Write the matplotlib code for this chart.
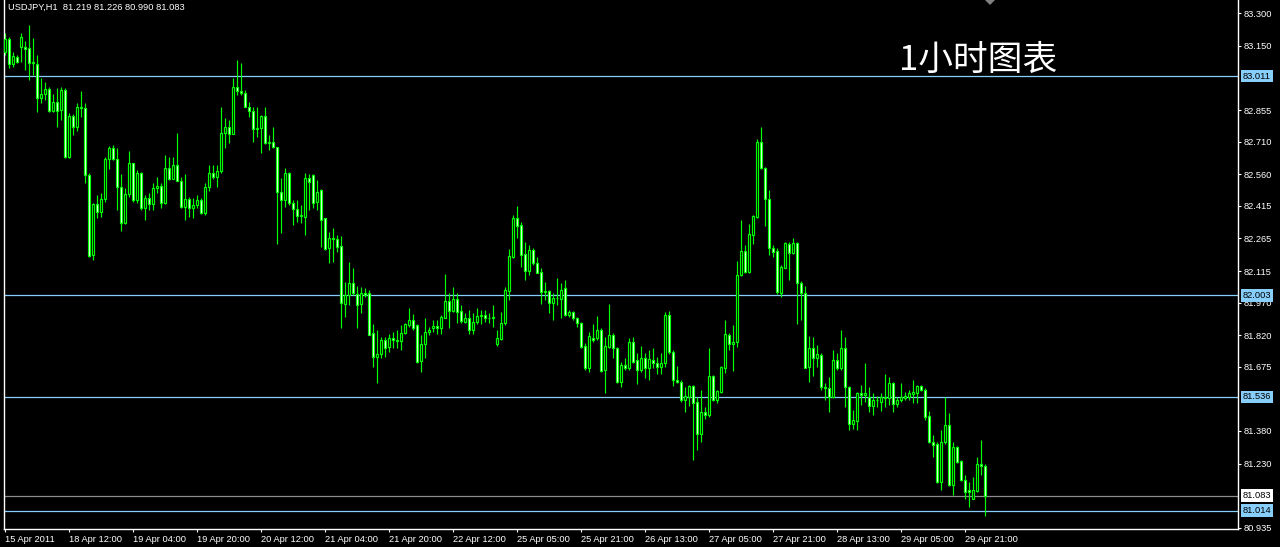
import matplotlib
matplotlib.use("Agg")
import matplotlib.pyplot as plt
import matplotlib.transforms as mtransforms
from matplotlib.patches import Polygon
import numpy as np

# ---------------- data ----------------
header_text = "USDJPY,H1  81.219 81.226 80.990 81.083"
chart_title = "1小时图表"

opens = [
    83.120, 83.180, 83.065, 83.097, 83.143, 83.143, 83.139, 83.073, 83.065, 82.909,
    82.929, 82.952, 82.852, 82.892, 82.855, 82.947, 82.640, 82.828, 82.778, 82.867,
    82.866, 82.556, 82.188, 82.423, 82.388, 82.446, 82.628, 82.680, 82.628, 82.499,
    82.338, 82.469, 82.610, 82.441, 82.567, 82.403, 82.449, 82.423, 82.495, 82.506,
    82.426, 82.587, 82.538, 82.601, 82.527, 82.411, 82.444, 82.403, 82.418, 82.441,
    82.380, 82.502, 82.567, 82.548, 82.576, 82.751, 82.775, 82.745, 82.962, 82.944,
    82.932, 82.870, 82.850, 82.766, 82.771, 82.828, 82.702, 82.706, 82.683, 82.480,
    82.441, 82.564, 82.429, 82.398, 82.368, 82.365, 82.541, 82.556, 82.434, 82.487,
    82.357, 82.219, 82.269, 82.260, 82.229, 81.963, 82.004, 82.062, 82.009, 81.963,
    82.015, 82.012, 81.828, 81.720, 81.733, 81.800, 81.766, 81.805, 81.797, 81.794,
    81.831, 81.866, 81.889, 81.866, 81.702, 81.779, 81.834, 81.855, 81.862, 81.855,
    81.901, 81.977, 81.932, 81.986, 81.932, 81.882, 81.897, 81.846, 81.882, 81.909,
    81.912, 81.897, 81.900, 81.779, 81.803, 81.874, 82.024, 82.180, 82.361, 82.326,
    82.193, 82.116, 82.211, 82.150, 82.110, 82.019, 82.022, 81.966, 81.989, 81.987,
    82.039, 81.912, 81.927, 81.897, 81.874, 81.770, 81.670, 81.809, 81.805, 81.846,
    81.659, 81.766, 81.823, 81.759, 81.603, 81.682, 81.671, 81.791, 81.705, 81.662,
    81.713, 81.667, 81.708, 81.690, 81.675, 81.690, 81.912, 81.744, 81.616, 81.606,
    81.521, 81.534, 81.586, 81.514, 81.368, 81.468, 81.452, 81.632, 81.521, 81.560,
    81.667, 81.820, 81.779, 81.790, 82.096, 82.207, 82.111, 82.280, 82.364, 82.708,
    82.587, 82.444, 82.223, 82.207, 82.015, 82.131, 82.239, 82.199, 82.242, 82.062,
    82.015, 81.672, 81.763, 81.717, 81.728, 81.583, 81.575, 81.537, 81.708, 81.670,
    81.759, 81.580, 81.414, 81.426, 81.552, 81.544, 81.537, 81.494, 81.524, 81.514,
    81.534, 81.529, 81.598, 81.503, 81.524, 81.529, 81.534, 81.549, 81.555, 81.586,
    81.570, 81.448, 81.330, 81.319, 81.146, 81.330, 81.406, 81.130, 81.304, 81.242,
    81.156, 81.110, 81.069, 81.104, 81.227, 81.219,
]
highs = [
    83.208, 83.192, 83.123, 83.108, 83.211, 83.174, 83.248, 83.185, 83.108, 83.001,
    82.985, 82.962, 82.929, 82.955, 82.962, 82.955, 82.840, 82.835, 82.886, 82.944,
    82.889, 82.564, 82.429, 82.464, 82.472, 82.640, 82.690, 82.694, 82.679, 82.561,
    82.495, 82.668, 82.613, 82.579, 82.572, 82.464, 82.472, 82.518, 82.548, 82.518,
    82.648, 82.640, 82.640, 82.748, 82.548, 82.561, 82.457, 82.449, 82.464, 82.449,
    82.521, 82.602, 82.602, 82.602, 82.867, 82.820, 82.809, 83.001, 83.085, 83.070,
    82.947, 82.893, 82.867, 82.870, 82.832, 82.867, 82.740, 82.778, 82.686, 82.541,
    82.587, 82.572, 82.441, 82.441, 82.418, 82.567, 82.561, 82.561, 82.533, 82.490,
    82.361, 82.295, 82.311, 82.280, 82.277, 82.065, 82.157, 82.131, 82.046, 82.042,
    82.035, 82.030, 81.871, 81.843, 81.812, 81.812, 81.825, 81.836, 81.843, 81.869,
    81.874, 81.946, 81.917, 81.871, 81.820, 81.897, 81.858, 81.889, 81.889, 81.912,
    82.101, 82.012, 82.042, 82.012, 81.958, 81.920, 81.935, 81.920, 81.943, 81.935,
    81.935, 81.920, 81.958, 81.846, 81.927, 82.042, 82.214, 82.372, 82.413, 82.341,
    82.249, 82.234, 82.219, 82.180, 82.131, 82.065, 82.030, 82.012, 82.084, 82.058,
    82.076, 81.935, 81.932, 81.904, 81.882, 81.782, 81.835, 81.871, 81.908, 81.851,
    81.812, 81.963, 81.828, 81.766, 81.698, 81.713, 81.809, 81.812, 81.736, 81.770,
    81.736, 81.751, 81.759, 81.718, 81.739, 81.928, 81.932, 81.751, 81.678, 81.613,
    81.583, 81.590, 81.590, 81.534, 81.567, 81.488, 81.763, 81.636, 81.570, 81.678,
    81.892, 81.828, 81.866, 82.162, 82.349, 82.234, 82.331, 82.372, 82.720, 82.775,
    82.594, 82.487, 82.234, 82.219, 82.142, 82.249, 82.249, 82.269, 82.249, 82.070,
    82.046, 81.816, 81.813, 81.774, 81.736, 81.598, 81.629, 81.754, 81.736, 81.843,
    81.813, 81.586, 81.475, 81.560, 81.590, 81.693, 81.583, 81.552, 81.540, 81.555,
    81.641, 81.626, 81.606, 81.537, 81.601, 81.560, 81.567, 81.613, 81.590, 81.590,
    81.575, 81.472, 81.360, 81.330, 81.383, 81.537, 81.463, 81.330, 81.310, 81.248,
    81.176, 81.146, 81.169, 81.261, 81.340, 81.226,
]
lows = [
    83.108, 83.050, 83.054, 83.073, 83.077, 83.039, 82.993, 83.016, 82.847, 82.886,
    82.901, 82.847, 82.847, 82.775, 82.809, 82.633, 82.633, 82.740, 82.760, 82.824,
    82.518, 82.181, 82.165, 82.361, 82.365, 82.434, 82.582, 82.625, 82.395, 82.300,
    82.331, 82.457, 82.434, 82.429, 82.395, 82.349, 82.395, 82.395, 82.472, 82.403,
    82.423, 82.533, 82.536, 82.530, 82.403, 82.349, 82.365, 82.357, 82.407, 82.377,
    82.372, 82.484, 82.536, 82.502, 82.564, 82.679, 82.705, 82.745, 82.924, 82.924,
    82.867, 82.824, 82.709, 82.732, 82.656, 82.699, 82.671, 82.679, 82.239, 82.292,
    82.411, 82.418, 82.326, 82.342, 82.334, 82.280, 82.395, 82.403, 82.395, 82.226,
    82.211, 82.150, 82.157, 82.203, 81.851, 81.904, 81.958, 82.004, 81.851, 81.920,
    81.996, 81.820, 81.675, 81.602, 81.713, 81.720, 81.744, 81.759, 81.759, 81.754,
    81.825, 81.858, 81.843, 81.693, 81.652, 81.713, 81.820, 81.836, 81.825, 81.825,
    81.897, 81.851, 81.928, 81.874, 81.877, 81.877, 81.825, 81.825, 81.871, 81.871,
    81.882, 81.874, 81.858, 81.770, 81.797, 81.866, 81.984, 82.173, 82.269, 82.134,
    82.076, 82.096, 82.142, 82.104, 81.963, 81.981, 81.923, 81.889, 81.958, 81.897,
    81.908, 81.904, 81.892, 81.858, 81.763, 81.662, 81.652, 81.790, 81.800, 81.652,
    81.552, 81.759, 81.713, 81.598, 81.583, 81.659, 81.662, 81.693, 81.595, 81.652,
    81.621, 81.616, 81.667, 81.641, 81.641, 81.675, 81.733, 81.586, 81.598, 81.514,
    81.468, 81.494, 81.248, 81.291, 81.330, 81.437, 81.445, 81.518, 81.506, 81.552,
    81.644, 81.751, 81.656, 81.767, 82.092, 82.104, 82.104, 82.239, 82.357, 82.582,
    82.321, 82.188, 82.180, 82.009, 81.997, 82.127, 82.076, 82.193, 81.871, 81.892,
    81.667, 81.606, 81.632, 81.672, 81.570, 81.524, 81.468, 81.529, 81.662, 81.662,
    81.488, 81.383, 81.391, 81.386, 81.498, 81.514, 81.468, 81.452, 81.491, 81.472,
    81.491, 81.498, 81.468, 81.491, 81.514, 81.521, 81.521, 81.509, 81.509, 81.564,
    81.432, 81.325, 81.261, 81.141, 81.107, 81.322, 81.126, 81.084, 81.233, 81.150,
    81.069, 81.028, 81.065, 81.100, 81.176, 80.990,
]
closes = [
    83.180, 83.065, 83.103, 83.074, 83.189, 83.137, 83.073, 83.077, 82.909, 82.929,
    82.952, 82.852, 82.892, 82.852, 82.947, 82.640, 82.828, 82.778, 82.867, 82.866,
    82.556, 82.185, 82.423, 82.388, 82.446, 82.628, 82.680, 82.631, 82.499, 82.338,
    82.469, 82.610, 82.441, 82.567, 82.403, 82.449, 82.423, 82.495, 82.506, 82.426,
    82.587, 82.538, 82.601, 82.530, 82.411, 82.444, 82.403, 82.418, 82.441, 82.380,
    82.502, 82.567, 82.548, 82.576, 82.751, 82.775, 82.745, 82.962, 82.944, 82.932,
    82.870, 82.850, 82.766, 82.771, 82.828, 82.702, 82.706, 82.683, 82.480, 82.441,
    82.564, 82.429, 82.398, 82.368, 82.372, 82.541, 82.525, 82.429, 82.480, 82.349,
    82.216, 82.269, 82.260, 82.226, 81.969, 82.007, 82.062, 82.012, 81.961, 82.015,
    82.004, 81.823, 81.720, 81.733, 81.800, 81.763, 81.805, 81.797, 81.794, 81.831,
    81.871, 81.889, 81.851, 81.698, 81.779, 81.834, 81.843, 81.862, 81.855, 81.904,
    81.977, 81.932, 81.986, 81.928, 81.883, 81.897, 81.846, 81.882, 81.909, 81.912,
    81.897, 81.900, 81.903, 81.805, 81.874, 82.027, 82.183, 82.361, 82.323, 82.188,
    82.116, 82.211, 82.150, 82.107, 82.019, 82.022, 81.966, 81.989, 81.993, 82.030,
    81.912, 81.927, 81.897, 81.874, 81.766, 81.667, 81.816, 81.800, 81.846, 81.656,
    81.770, 81.823, 81.759, 81.606, 81.682, 81.671, 81.791, 81.698, 81.662, 81.713,
    81.667, 81.710, 81.690, 81.675, 81.690, 81.912, 81.744, 81.616, 81.606, 81.521,
    81.540, 81.586, 81.509, 81.368, 81.468, 81.452, 81.632, 81.521, 81.564, 81.675,
    81.825, 81.779, 81.790, 82.096, 82.207, 82.111, 82.285, 82.367, 82.708, 82.587,
    82.444, 82.223, 82.203, 82.020, 82.134, 82.242, 82.196, 82.242, 82.061, 82.015,
    81.670, 81.763, 81.717, 81.733, 81.583, 81.575, 81.537, 81.708, 81.670, 81.759,
    81.580, 81.414, 81.429, 81.552, 81.544, 81.552, 81.494, 81.524, 81.521, 81.537,
    81.529, 81.598, 81.503, 81.524, 81.534, 81.540, 81.552, 81.560, 81.586, 81.570,
    81.445, 81.330, 81.314, 81.146, 81.330, 81.406, 81.130, 81.304, 81.238, 81.153,
    81.100, 81.100, 81.107, 81.227, 81.218, 81.083,
]

xtick_bars = [0, 16, 32, 48, 64, 80, 96, 112, 128, 144, 160, 176, 192, 208, 224, 240]
xtick_labels = ["15 Apr 2011", "18 Apr 12:00", "19 Apr 04:00", "19 Apr 20:00",
                "20 Apr 12:00", "21 Apr 04:00", "21 Apr 20:00", "22 Apr 12:00",
                "25 Apr 05:00", "25 Apr 21:00", "26 Apr 13:00", "27 Apr 05:00",
                "27 Apr 21:00", "28 Apr 13:00", "29 Apr 05:00", "29 Apr 21:00"]

ytick_values = [83.300, 83.150, 82.855, 82.710, 82.560, 82.415, 82.265, 82.115,
                81.970, 81.820, 81.675, 81.380, 81.230, 80.935]
ytick_labels = ["83.300", "83.150", "82.855", "82.710", "82.560", "82.415", "82.265",
                "82.115", "81.970", "81.820", "81.675", "81.380", "81.230", "80.935"]

level_prices = [83.011, 82.003, 81.536, 81.014]
level_labels = ["83.011", "82.003", "81.536", "81.014"]
bid_price = 81.083
bid_label = "81.083"

# ---------------- style ----------------
W, H = 1280, 547
BG = "black"
LIME = "#00FF00"
LEVEL = "#87CEFA"
BIDC = "#8C8C8C"
SMALL_FONT = "Liberation Sans"
FS = 6.7

fig = plt.figure(figsize=(W / 100, H / 100), dpi=100, facecolor=BG)
ax = fig.add_axes([4 / W, 18 / H, 1234 / W, 529 / H])
ax.set_facecolor(BG)

o = np.array(opens)
h = np.array(highs)
l = np.array(lows)
c = np.array(closes)
x = np.arange(len(o))
hi = np.maximum(h, np.maximum(o, c))
lo = np.minimum(l, np.minimum(o, c))

# level lines (behind candles)
for p in level_prices:
    ax.axhline(p, color=LEVEL, lw=0.9, zorder=1)
ax.axhline(bid_price, color=BIDC, lw=0.9, zorder=1)

# wicks
ax.vlines(x, lo, hi, color=LIME, lw=0.85, zorder=2)
# bodies
bottoms = np.minimum(o, c)
heights = np.abs(c - o)
heights = np.where(heights < 0.0008, 0.0008, heights)
faces = np.where(c >= o, "black", "white")
ax.bar(x, heights, bottom=bottoms, width=0.5, color=faces, edgecolor=LIME,
       linewidth=0.85, zorder=3)

ax.set_xlim(-0.25, 308.25)
ax.set_ylim(80.929, 83.361)

# spines
for side in ["left", "right", "bottom"]:
    ax.spines[side].set_color("white")
    ax.spines[side].set_linewidth(1.0)
ax.spines["top"].set_visible(False)

# y ticks on right
ax.yaxis.tick_right()
ax.set_yticks(ytick_values)
ax.set_yticklabels(ytick_labels)
ax.tick_params(axis="y", colors="white", length=2.5, width=0.8, pad=1.5,
               labelsize=FS)
for t in ax.get_yticklabels():
    t.set_fontfamily(SMALL_FONT)

# x ticks
ax.set_xticks(xtick_bars)
ax.set_xticklabels(xtick_labels, ha="left")
ax.tick_params(axis="x", colors="white", length=2.5, width=0.8, pad=2.0,
               labelsize=FS)
for t in ax.get_xticklabels():
    t.set_fontfamily(SMALL_FONT)

# price boxes on the right axis
trans = mtransforms.blended_transform_factory(fig.transFigure, ax.transData)
for p, lab in zip(level_prices, level_labels):
    ax.text(1243 / W, p, lab, transform=trans, fontsize=FS, family=SMALL_FONT,
            color="black", va="center", ha="left", zorder=5, clip_on=False,
            bbox=dict(boxstyle="square,pad=0.18", facecolor=LEVEL, edgecolor="none"))
ax.text(1243 / W, bid_price, bid_label, transform=trans, fontsize=FS, family=SMALL_FONT,
        color="black", va="center", ha="left", zorder=5, clip_on=False,
        bbox=dict(boxstyle="square,pad=0.18", facecolor="white", edgecolor="none"))

# header and title
fig.text(8 / W, 1 - 7.5 / H, header_text, color="white", fontsize=FS,
         family=SMALL_FONT, va="center", ha="left")
fig.text(899 / W, 1 - 60 / H, chart_title, color="white", fontsize=25,
         family=["Noto Sans CJK SC", "DejaVu Sans"], va="center", ha="left")

# chart-shift marker at the top
tri = Polygon([[985 / W, 1.0], [995 / W, 1.0], [990 / W, 1 - 5 / H]],
              closed=True, transform=fig.transFigure, facecolor="#808080",
              edgecolor="none")
fig.patches.append(tri)

fig.savefig("out.png", dpi=100, facecolor=BG)
